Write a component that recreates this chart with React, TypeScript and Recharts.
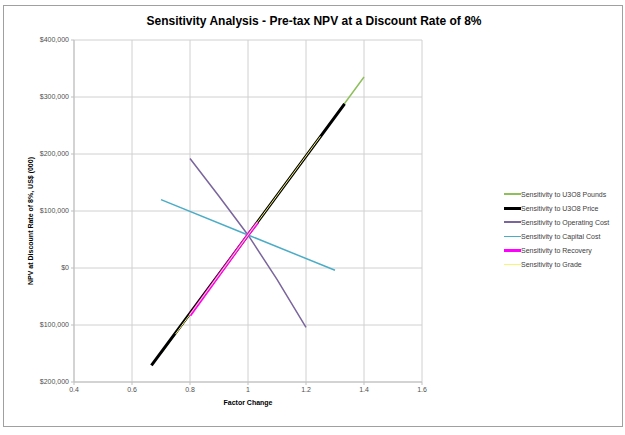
import React from 'react';
import { LineChart, Line, XAxis, YAxis, CartesianGrid } from 'recharts';

const xTicks = [0.4, 0.6, 0.8, 1, 1.2, 1.4, 1.6];
const yTicks = [-200000, -100000, 0, 100000, 200000, 300000, 400000];

const poundsFactor = [0.7, 1.0, 1.4];
const poundsNpv = [-150000, 58000, 335000];
const priceFactor = [0.667, 1.0, 1.333];
const priceNpv = [-171000, 58000, 288000];
const opexFactor = [0.8, 0.9, 1.0, 1.1, 1.2];
const opexNpv = [192000, 126000, 58000, -20000, -104000];
const capexFactor = [0.7, 1.0, 1.3];
const capexNpv = [120000, 58000, -4000];
const recoveryFactor = [0.8, 1.0, 1.034];
const recoveryNpv = [-83000, 58000, 80000];
const gradeFactor = [0.75, 1.0, 1.25];
const gradeNpv = [-116000, 58000, 231000];

const toPoints = (xs: number[], ys: number[]) => xs.map((x, i) => ({ factor: x, npv: ys[i] }));

const series = [
  { name: 'Sensitivity to U3O8 Pounds', color: '#8fbf5a', width: 1.5, data: toPoints(poundsFactor, poundsNpv) },
  { name: 'Sensitivity to U3O8 Price', color: '#000000', width: 3, data: toPoints(priceFactor, priceNpv) },
  { name: 'Sensitivity to Operating Cost', color: '#7a659d', width: 1.5, data: toPoints(opexFactor, opexNpv) },
  { name: 'Sensitivity to Capital Cost', color: '#4bacc6', width: 1.5, data: toPoints(capexFactor, capexNpv) },
  { name: 'Sensitivity to Recovery', color: '#ff00ff', width: 3, data: toPoints(recoveryFactor, recoveryNpv) },
  { name: 'Sensitivity to Grade', color: '#f5f57a', width: 1, data: toPoints(gradeFactor, gradeNpv) },
];

const fmtMoney = (v: number) => '$' + Math.abs(v).toLocaleString('en-US');

const font = '"Liberation Sans", Arial, sans-serif';

export default function App() {
  return (
    <div style={{ position: 'absolute', left: 0, top: 0, width: 625, height: 435, background: '#fff', fontFamily: font }}>
      <div style={{ position: 'absolute', left: 3, top: 5, width: 618, height: 420, border: '1.5px solid #a0a0a0' }} />
      <div style={{ position: 'absolute', left: 0, top: 14, width: 628, textAlign: 'center', fontWeight: 'bold', fontSize: 12, color: '#000' }}>
        Sensitivity Analysis - Pre-tax NPV at a Discount Rate of 8%
      </div>
      <div style={{ position: 'absolute', left: 0, top: 0 }}>
        <LineChart width={625} height={435} margin={{ top: 40, right: 203, bottom: 0, left: 0 }}>
          <CartesianGrid stroke="#d0d0d0" strokeWidth={1} />
          <XAxis
            type="number"
            dataKey="factor"
            domain={[0.4, 1.6]}
            ticks={xTicks}
            allowDataOverflow
            height={53}
            stroke="#bfbfbf"
            tickSize={3}
            tick={{ fontSize: 7, fill: '#505050', fontFamily: font }}
          />
          <YAxis
            type="number"
            dataKey="npv"
            domain={[-200000, 400000]}
            ticks={yTicks}
            width={74}
            stroke="#bfbfbf"
            tickSize={3}
            tickFormatter={fmtMoney}
            tick={{ fontSize: 7, fill: '#505050', fontFamily: font }}
          />
          {series.map((s) => (
            <Line
              key={s.name}
              data={s.data}
              dataKey="npv"
              type="linear"
              stroke={s.color}
              strokeWidth={s.width}
              dot={false}
              isAnimationActive={false}
            />
          ))}
        </LineChart>
      </div>
      <div style={{ position: 'absolute', left: 248, top: 399, transform: 'translateX(-50%)', fontWeight: 'bold', fontSize: 7, whiteSpace: 'nowrap' }}>
        Factor Change
      </div>
      <div style={{ position: 'absolute', left: 30, top: 221, transform: 'translate(-50%, -50%) rotate(-90deg)', fontWeight: 'bold', fontSize: 7, whiteSpace: 'nowrap' }}>
        NPV at Discount Rate of 8%, US$ (000)
      </div>
      <div style={{ position: 'absolute', left: 504, top: 187 }}>
        {series.map((s) => (
          <div key={s.name} style={{ display: 'flex', alignItems: 'center', height: 14.1 }}>
            <div style={{ width: 17, height: s.width, background: s.color }} />
            <span style={{ fontSize: 7, color: '#404040', whiteSpace: 'nowrap' }}>{s.name}</span>
          </div>
        ))}
      </div>
    </div>
  );
}
